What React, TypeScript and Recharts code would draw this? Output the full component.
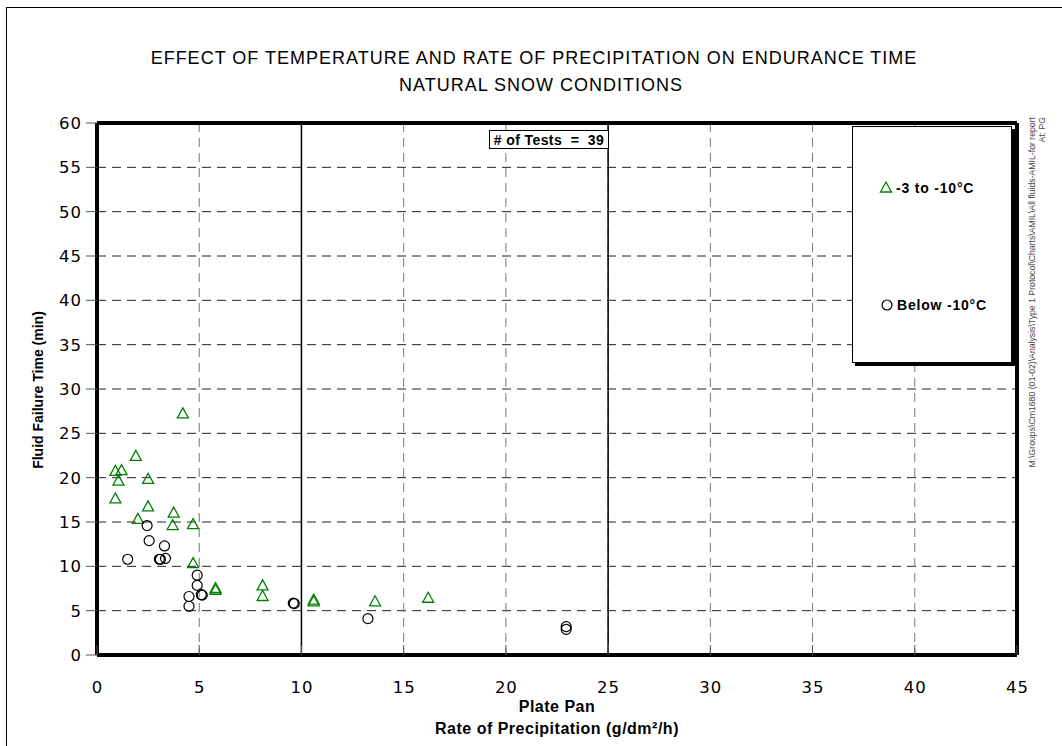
import React from "react"
import {
    ScatterChart,
    Scatter,
    XAxis,
    YAxis,
    CartesianGrid,
    ReferenceLine,
    Legend,
} from "recharts"

// -3 to -10°C (triangles)
const warmRate = [4.2, 1.9, 0.9, 1.2, 1.05, 2.5, 0.9, 2.5, 3.75, 2.0, 3.7, 4.7, 4.7, 5.8, 5.8, 8.1, 8.1, 10.6, 10.6, 13.6, 16.2]
const warmTime = [27.2, 22.4, 20.7, 20.8, 19.6, 19.8, 17.6, 16.7, 16.0, 15.3, 14.6, 14.7, 10.3, 7.3, 7.5, 7.8, 6.6, 6.0, 6.2, 6.0, 6.4]

// Below -10°C (circles)
const coldRate = [2.45, 2.55, 3.3, 1.5, 3.05, 3.1, 3.35, 4.9, 4.9, 5.1, 5.15, 4.5, 4.5, 9.6, 9.65, 13.25, 22.95, 22.95]
const coldTime = [14.6, 12.9, 12.3, 10.8, 10.8, 10.8, 10.9, 9.0, 7.85, 6.8, 6.75, 6.6, 5.5, 5.85, 5.8, 4.1, 3.2, 2.9]

const xTicks = [0, 5, 10, 15, 20, 25, 30, 35, 40, 45]
const yTicks = [0, 5, 10, 15, 20, 25, 30, 35, 40, 45, 50, 55, 60]
const solidX = [10, 25]

const warmData = warmRate.map((x, i) => ({ x, y: warmTime[i] }))
const coldData = coldRate.map((x, i) => ({ x, y: coldTime[i] }))

const GREEN = "#008000"
const sans = "'Liberation Sans', Arial, sans-serif"
const tickFont = "'DejaVu Sans', Verdana, sans-serif"

const Triangle = ({ cx, cy }: any) => (
    <path
        d={`M${cx},${cy - 6} L${cx - 5.5},${cy + 4} L${cx + 5.5},${cy + 4} Z`}
        fill="none"
        stroke={GREEN}
        strokeWidth={1.3}
    />
)

const Circle = ({ cx, cy }: any) => (
    <circle cx={cx} cy={cy} r={5} fill="none" stroke="#000" strokeWidth={1.2} />
)

const XTick = ({ x, y, payload }: any) => (
    <g>
        <line x1={x} x2={x} y1={y - 10} y2={y} stroke="#555" strokeWidth={1} />
        <text x={x + 0.5} y={y + 38} textAnchor="middle" fontFamily={tickFont} fontSize={16.5} letterSpacing={1} fill="#000">
            {payload.value}
        </text>
    </g>
)

const YTick = ({ x, y, payload }: any) => (
    <g>
        <line x1={x - 11} x2={x} y1={y} y2={y} stroke="#555" strokeWidth={1} />
        <text x={x - 15} y={y + 6} textAnchor="end" fontFamily={tickFont} fontSize={16.5} letterSpacing={1} fill="#000">
            {payload.value}
        </text>
    </g>
)

const LegendBox = () => (
    <div
        style={{
            position: "absolute",
            left: 852,
            top: 126,
            width: 160,
            height: 237,
            boxSizing: "border-box",
            border: "1px solid #000",
            boxShadow: "3px 3px 0 #000",
            background: "#fff",
        }}
    >
        <svg width={160} height={237} style={{ position: "absolute", left: -1, top: -1 }}>
            <Triangle cx={34} cy={62} />
            <text x={44} y={67} fontFamily={sans} fontWeight="bold" fontSize={14} letterSpacing={0.8}>-3 to -10°C</text>
            <Circle cx={35} cy={179} />
            <text x={45} y={184} fontFamily={sans} fontWeight="bold" fontSize={14} letterSpacing={0.8}>Below -10°C</text>
        </svg>
    </div>
)

export default function App() {
    return (
        <div style={{ position: "absolute", left: 0, top: 0, width: 1062, height: 746, background: "#fff" }}>
            <ScatterChart
                width={1062}
                height={746}
                margin={{ top: 123, right: 45, bottom: 0, left: 0 }}
            >
                <CartesianGrid vertical={false} stroke="#222" strokeDasharray="9 6" />
                <CartesianGrid horizontal={false} stroke="#777" strokeDasharray="9 6" />
                <XAxis
                    type="number"
                    dataKey="x"
                    domain={[0, 45]}
                    ticks={xTicks}
                    interval={0}
                    height={91}
                    tickSize={0}
                    tickMargin={0}
                    tick={<XTick />}
                    axisLine={{ stroke: "#000", strokeWidth: 4 }}
                    allowDataOverflow
                />
                <YAxis
                    type="number"
                    dataKey="y"
                    domain={[0, 60]}
                    ticks={yTicks}
                    interval={0}
                    width={97}
                    tickSize={0}
                    tickMargin={0}
                    tick={<YTick />}
                    axisLine={{ stroke: "#000", strokeWidth: 4 }}
                    allowDataOverflow
                />
                {solidX.map(v => (
                    <ReferenceLine key={v} x={v} stroke="#000" strokeWidth={1.5} />
                ))}
                <ReferenceLine y={60} stroke="#000" strokeWidth={4} />
                <ReferenceLine x={45} stroke="#000" strokeWidth={4} />
                <Legend content={<LegendBox />} wrapperStyle={{ position: "absolute", left: 0, top: 0 }} />
                <Scatter name="-3 to -10°C" data={warmData} shape={<Triangle />} isAnimationActive={false} />
                <Scatter name="Below -10°C" data={coldData} shape={<Circle />} isAnimationActive={false} />
            </ScatterChart>

            <svg
                width={1062}
                height={746}
                style={{ position: "absolute", left: 0, top: 0, pointerEvents: "none" }}
            >
                <rect x={6.5} y={7.5} width={1070} height={760} fill="none" stroke="#000" strokeWidth={1} />
                <text x={534} y={64} textAnchor="middle" fontFamily={sans} fontSize={18} letterSpacing={1}>
                    EFFECT OF TEMPERATURE AND RATE OF PRECIPITATION ON ENDURANCE TIME
                </text>
                <text x={541} y={91} textAnchor="middle" fontFamily={sans} fontSize={18} letterSpacing={1}>
                    NATURAL SNOW CONDITIONS
                </text>
                <rect x={489.5} y={130.5} width={119} height={18} fill="#fff" stroke="#000" strokeWidth={1} />
                <text x={549} y={145} textAnchor="middle" fontFamily={sans} fontWeight="bold" fontSize={14} letterSpacing={0.4} xmlSpace="preserve">
                    # of Tests  =  39
                </text>
                <text x={557} y={712} textAnchor="middle" fontFamily={sans} fontWeight="bold" fontSize={16} letterSpacing={0.5}>
                    Plate Pan
                </text>
                <text x={557} y={734} textAnchor="middle" fontFamily={sans} fontWeight="bold" fontSize={16} letterSpacing={0.5}>
                    Rate of Precipitation (g/dm²/h)
                </text>
                <text
                    transform="translate(43,390) rotate(-90)"
                    textAnchor="middle"
                    fontFamily={sans}
                    fontWeight="bold"
                    fontSize={14}
                >
                    Fluid Failure Time (min)
                </text>
                <text
                    transform="translate(1035,117) rotate(-90)"
                    textAnchor="end"
                    fontFamily={sans}
                    fontSize={8.7}
                    fill="#444"
                >
                    M:\Groups\Cm1680 (01-02)\Analysis\Type 1 Protocol\Charts\AMIL\All fluids-AMIL-for report
                </text>
                <text
                    transform="translate(1045,117) rotate(-90)"
                    textAnchor="end"
                    fontFamily={sans}
                    fontSize={8.7}
                    fill="#444"
                >
                    At: PG
                </text>
            </svg>
        </div>
    )
}
